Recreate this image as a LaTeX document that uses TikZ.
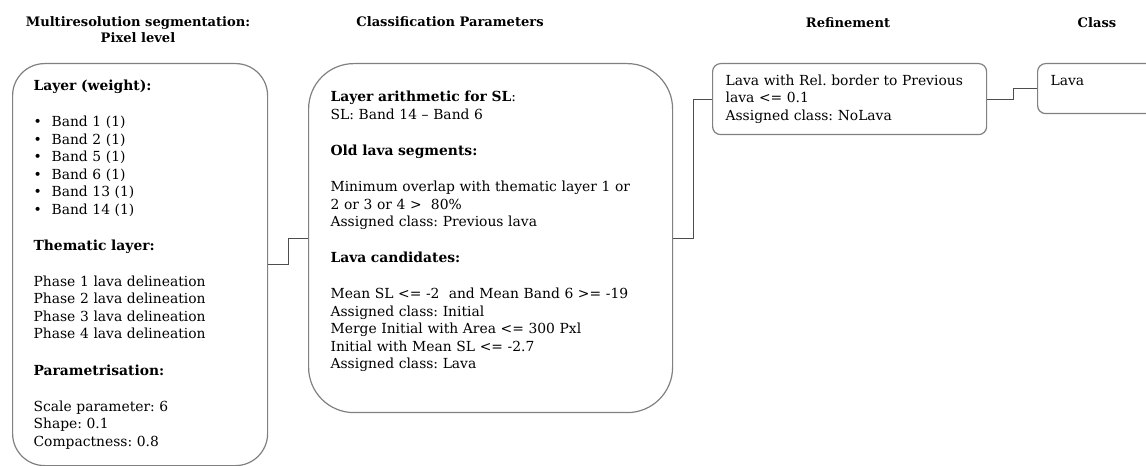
\documentclass[tikz,border=0pt]{standalone}
\usepackage{fontspec}
\setmainfont{DejaVu Serif}
\usepackage{tikz}
\definecolor{cframe}{HTML}{808080}
\definecolor{cline}{HTML}{4d4d4d}
\newcommand{\gapline}{\\[14pt]}
\newcommand{\bitem}[1]{\makebox[13.5pt][l]{•}#1}
\frenchspacing

\begin{document}
\begin{tikzpicture}[x=0.75pt,y=-0.75pt,
  stage/.style={font=\fontsize{9.8}{12}\selectfont\bfseries,align=center},
  panel/.style={draw=cframe,line width=0.9pt,font=\fontsize{10.4}{13.1}\selectfont,
    align=left,anchor=north west,inner ysep=0pt},
  link/.style={cline,line width=0.7pt}]
  \useasboundingbox (0,0) rectangle (1146,466);
  \node[stage] (h1) at (138,30) {Multiresolution segmentation:\\Pixel level};
  \node[stage] (h2) at (450,22) {Classification Parameters};
  \node[stage] (h3) at (848,23) {Refinement};
  \node[stage] (h4) at (1097,23) {Class};
  \node[panel,rounded corners=24pt,text width=159.75pt,inner xsep=15.75pt,
    minimum height=301.5pt] (seg) at (12,63) {%
    \textbf{Layer (weight):}\gapline
    \bitem{Band 1 (1)}\\
    \bitem{Band 2 (1)}\\
    \bitem{Band 5 (1)}\\
    \bitem{Band 6 (1)}\\
    \bitem{Band 13 (1)}\\
    \bitem{Band 14 (1)}\gapline
    \textbf{Thematic layer:}\gapline
    Phase 1 lava delineation\\
    Phase 2 lava delineation\\
    Phase 3 lava delineation\\
    Phase 4 lava delineation\gapline
    \textbf{Parametrisation:}\gapline
    Scale parameter: 6\\
    Shape: 0.1\\
    Compactness: 0.8};
  \node[panel,rounded corners=34pt,text width=240pt,inner xsep=16.5pt,
    minimum height=261.75pt] (param) at (308,63) {%
    \textbf{Layer arithmetic for SL}:\\
    SL: Band 14 -- Band 6\gapline
    \textbf{Old lava segments:}\gapline
    Minimum overlap with thematic layer 1 or\\
    2 or 3 or 4 >\ \ 80\%\\
    Assigned class: Previous lava\gapline
    \textbf{Lava candidates:}\gapline
    Mean SL <= -2\ \ and Mean Band 6 >= -19\\
    Assigned class: Initial\\
    Merge Initial with Area <= 300 Pxl\\
    Initial with Mean SL <= -2.7\\
    Assigned class: Lava\\[-1pt]\mbox{}};
  \node[panel,rounded corners=6pt,text width=186pt,inner xsep=9.75pt,
    minimum height=53.25pt] (refine) at (712,63) {%
    Lava with Rel. border to Previous\\
    lava <= 0.1\\
    Assigned class: NoLava};
  \node[panel,rounded corners=6pt,text width=93pt,inner xsep=9.75pt,
    text height=16.5pt,text depth=21pt] (cls) at (1037,63) {Lava};
  \draw[link] (seg.east) -- ++(20,0) |- (param.west);
  \draw[link] (param.east) -- ++(20,0) |- (refine.west);
  \draw[link] (refine.east) -- ++(26,0) |- (cls.west);
\end{tikzpicture}
\end{document}
